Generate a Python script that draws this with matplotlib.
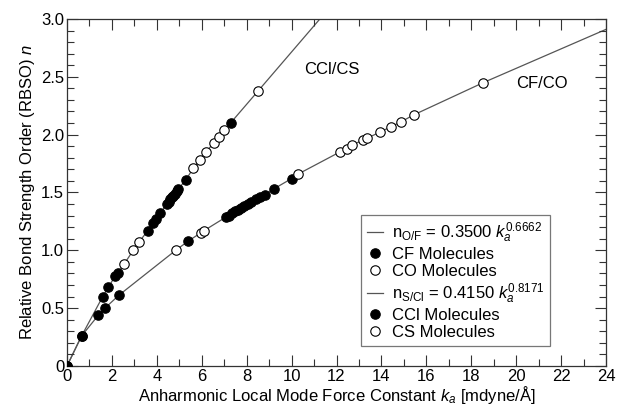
import numpy as np
import matplotlib
matplotlib.use("Agg")
import matplotlib.pyplot as plt
from matplotlib.lines import Line2D
from matplotlib.ticker import MultipleLocator

plt.rcParams["font.family"] = ["Liberation Sans", "DejaVu Sans"]
plt.rcParams["mathtext.fontset"] = "custom"
plt.rcParams["mathtext.rm"] = "Liberation Sans"
plt.rcParams["mathtext.it"] = "Liberation Sans:italic"

# CF / CO series (ka in mdyne/A, RBSO n)
cf_k = [0.0, 0.65, 1.40, 1.69, 2.30, 5.40, 7.10, 7.20, 7.35, 7.50, 7.60, 7.75, 7.90,
        8.05, 8.20, 8.40, 8.60, 8.80, 9.20, 10.00]
cf_n = [0.0, 0.26, 0.44, 0.50, 0.61, 1.08, 1.29, 1.30, 1.32, 1.34, 1.35, 1.37, 1.38,
        1.40, 1.42, 1.44, 1.46, 1.48, 1.53, 1.62]
co_k = [4.84, 5.95, 6.10, 10.30, 12.15, 12.45, 12.68, 13.16, 13.37, 13.92, 14.44,
        14.87, 15.43, 18.54]
co_n = [1.00, 1.15, 1.17, 1.66, 1.85, 1.88, 1.91, 1.95, 1.97, 2.02, 2.07,
        2.11, 2.17, 2.45]
cfco_end = (24.0, 2.91)

# CCl / CS series
ccl_k = [0.0, 0.65, 1.59, 1.84, 2.15, 2.25, 3.60, 3.84, 3.95, 4.14, 4.44, 4.52,
         4.59, 4.66, 4.73, 4.81, 4.88, 4.96, 5.29, 7.28]
ccl_n = [0.0, 0.26, 0.60, 0.68, 0.78, 0.80, 1.17, 1.24, 1.27, 1.32, 1.40, 1.42,
         1.44, 1.46, 1.47, 1.49, 1.51, 1.53, 1.61, 2.10]
cs_k = [2.54, 2.95, 3.20, 5.63, 5.92, 6.18, 6.55, 6.76, 7.00, 8.52]
cs_n = [0.88, 1.00, 1.07, 1.71, 1.78, 1.85, 1.93, 1.98, 2.04, 2.38]
cclcs_end = (11.26, 3.0)


def polyline(k1, n1, k2, n2, end):
    k = np.concatenate([k1, k2, [end[0]]])
    n = np.concatenate([n1, n2, [end[1]]])
    order = np.argsort(k, kind="stable")
    return k[order], n[order]


fig = plt.figure(figsize=(6.17, 4.12), dpi=100)
ax = fig.add_axes([0.1086, 0.1117, 0.8736, 0.8423])

line_kw = dict(color="#555555", lw=0.9, zorder=1)
filled_kw = dict(ls="none", marker="o", ms=6.8, mfc="black", mec="black", mew=0.8, zorder=3)
open_kw = dict(ls="none", marker="o", ms=6.8, mfc="white", mec="black", mew=0.8, zorder=4)

k, n = polyline(cf_k, cf_n, co_k, co_n, cfco_end)
ax.plot(k, n, **line_kw)
k, n = polyline(ccl_k, ccl_n, cs_k, cs_n, cclcs_end)
ax.plot(k, n, **line_kw)

ax.plot(cf_k, cf_n, **filled_kw)
ax.plot(ccl_k, ccl_n, **filled_kw)
ax.plot(co_k, co_n, **open_kw)
ax.plot(cs_k, cs_n, **open_kw)

fs = 12
ax.text(10.55, 2.56, "CCl/CS", fontsize=fs, ha="left", va="center")
ax.text(20.0, 2.44, "CF/CO", fontsize=fs, ha="left", va="center")

ax.set_xlim(0, 24)
ax.set_ylim(0, 3.0)
ax.xaxis.set_major_locator(MultipleLocator(2))
ax.xaxis.set_minor_locator(MultipleLocator(1))
ax.yaxis.set_major_locator(MultipleLocator(0.5))
ax.yaxis.set_minor_locator(MultipleLocator(0.1))
ax.set_yticks([0, 0.5, 1.0, 1.5, 2.0, 2.5, 3.0])
ax.set_yticklabels(["0", "0.5", "1.0", "1.5", "2.0", "2.5", "3.0"])
ax.tick_params(which="both", direction="in", top=True, right=True, labelsize=fs,
               color="#333333", width=0.8, pad=2)
ax.tick_params(which="major", length=8)
ax.tick_params(which="minor", length=5)
for s in ax.spines.values():
    s.set_linewidth(0.9)
    s.set_color("#333333")

ax.set_xlabel(r"Anharmonic Local Mode Force Constant $k_a$ [mdyne/Å]", fontsize=fs, labelpad=0)
ax.set_ylabel(r"Relative Bond Strength Order (RBSO) $n$", fontsize=fs, labelpad=3)

handles = [
    Line2D([], [], color="#555555", lw=0.9),
    Line2D([], [], **filled_kw),
    Line2D([], [], **open_kw),
    Line2D([], [], color="#555555", lw=0.9),
    Line2D([], [], **filled_kw),
    Line2D([], [], **open_kw),
]
labels = [
    r"n$_\mathregular{O/F}$ = 0.3500 $k_a^{\mathregular{0.6662}}$",
    "CF Molecules",
    "CO Molecules",
    r"n$_\mathregular{S/Cl}$ = 0.4150 $k_a^{\mathregular{0.8171}}$",
    "CCl Molecules",
    "CS Molecules",
]
leg = ax.legend(handles, labels, loc="upper left", bbox_to_anchor=(0.585, 0.478),
                bbox_transform=fig.transFigure, fontsize=fs, frameon=True, fancybox=False,
                edgecolor="#555555", handlelength=1.0, handletextpad=0.5, labelspacing=0.12,
                borderpad=0.35, borderaxespad=0)
leg.get_frame().set_linewidth(0.9)

fig.savefig("out.png", dpi=100)
